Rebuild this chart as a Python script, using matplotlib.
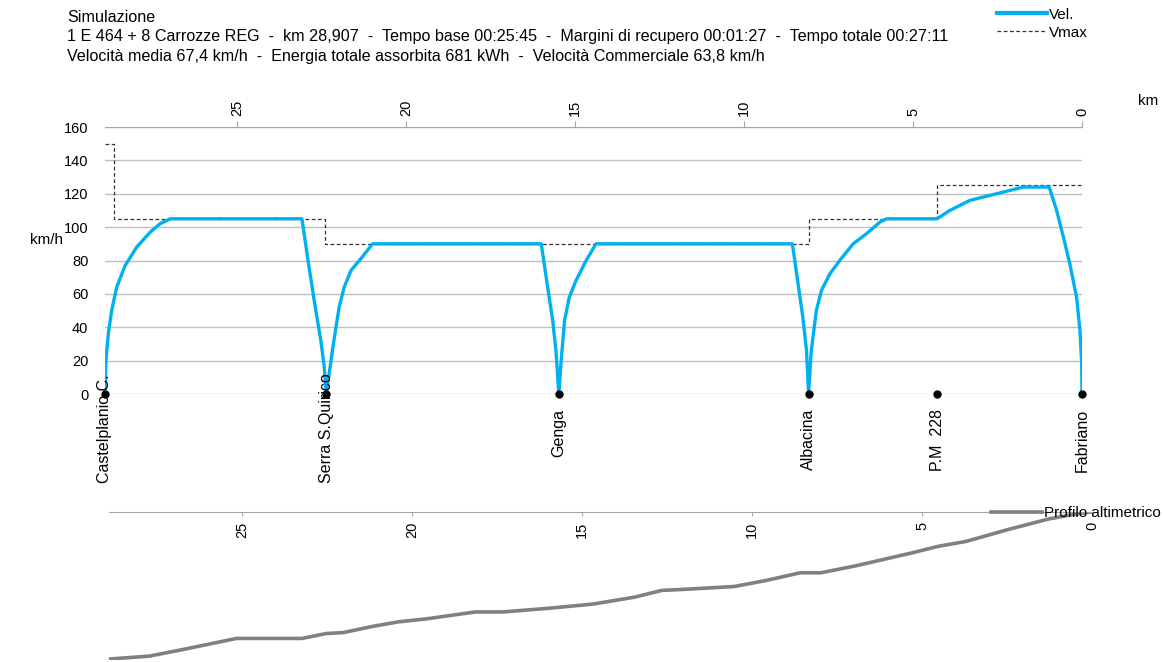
import matplotlib
matplotlib.use('Agg')
import matplotlib.pyplot as plt
from matplotlib.lines import Line2D

plt.rcParams['font.family'] = ['Liberation Sans', 'DejaVu Sans']

# dati
km_total = 28.907

speed_km = [28.907, 28.88, 28.81, 28.71, 28.56, 28.31, 27.97, 27.57, 27.28, 26.98,
            23.08, 22.87, 22.67, 22.52, 22.42, 22.36,
            22.15, 21.98, 21.83, 21.63, 21.34, 20.99,
            16.00, 15.81, 15.66, 15.56, 15.48,
            15.41, 15.31, 15.17, 14.97, 14.67, 14.38,
            8.57, 8.40, 8.26, 8.15, 8.09,
            8.01, 7.86, 7.71, 7.46, 7.17, 6.77, 6.38, 5.98, 5.78,
            4.29, 3.91, 3.32, 2.53, 1.74, 0.97,
            0.75, 0.55, 0.36, 0.16, 0.06, 0.01, 0.0]
speed_val = [0, 20, 36, 50, 64, 77, 88, 97, 102, 105,
             105, 76, 50, 32, 16, 0,
             30, 52, 64, 74, 81, 90,
             90, 64, 44, 25, 0,
             20, 44, 58, 68, 80, 90,
             90, 66, 46, 26, 0,
             26, 50, 62, 72, 80, 90, 96, 103, 105,
             105, 110, 116, 120, 124, 124,
             110, 94, 78, 58, 38, 19, 0]

vmax_km = [28.907, 28.64, 22.39, 8.09, 4.29, 0.0]
vmax_val = [150, 105, 90, 105, 125, 125]

stations = ['Castelplanio C.', 'Serra S.Quirico', 'Genga', 'Albacina', 'P.M  228', 'Fabriano']
station_km = [28.907, 22.36, 15.48, 8.09, 4.29, 0.0]

profile_km = [28.89, 27.71, 26.69, 25.16, 23.23, 22.52, 22.01, 21.20, 20.38, 19.57,
              18.14, 17.33, 15.91, 14.69, 13.47, 12.65, 12.04, 10.52, 9.60, 8.58,
              7.97, 6.96, 5.33, 4.52, 3.70, 2.48, 1.26, 0.45, 0.04]
profile_m = [190, 193, 200, 211, 211, 216, 217, 223, 228, 231,
             238, 238, 242, 246, 253, 260, 261, 264, 270, 278,
             278, 285, 298, 305, 310, 322, 333, 338, 340]

header = ['Simulazione',
          '1 E 464 + 8 Carrozze REG  -  km 28,907  -  Tempo base 00:25:45  -  '
          'Margini di recupero 00:01:27  -  Tempo totale 00:27:11',
          'Velocità media 67,4 km/h  -  Energia totale assorbita 681 kWh  -  '
          'Velocità Commerciale 63,8 km/h']

W, H = 1163, 662
fig = plt.figure(figsize=(W / 100, H / 100), dpi=100)

blue = '#00B0F0'
grid_c = '#BFBFBF'

# grafico velocità
ax = fig.add_axes([105 / W, 1 - 394 / H, (1082 - 105) / W, (394 - 127) / H])
ax.plot(speed_km, speed_val, color=blue, lw=2.4, solid_joinstyle='round', zorder=3)
ax.plot(vmax_km, vmax_val, color='#333333', lw=0.9, ls=(0, (3, 2)),
        drawstyle='steps-post', zorder=2)
ax.plot(station_km, [0] * len(station_km), 'o', color='black', ms=5, zorder=4, clip_on=False)

ax.set_xlim(km_total, 0)
ax.set_ylim(0, 160)
ax.set_yticks(range(0, 161, 20))
ax.grid(axis='y', color=grid_c, lw=1)
ax.set_axisbelow(True)
for s in ['left', 'right', 'bottom']:
    ax.spines[s].set_visible(False)
ax.spines['top'].set_color('#A6A6A6')
ax.xaxis.set_ticks_position('top')
ax.set_xticks([0, 5, 10, 15, 20, 25])
ax.tick_params(axis='x', colors='#A6A6A6', labelcolor='black', length=4,
               labelrotation=90, labelsize=10.5, pad=4)
ax.tick_params(axis='y', length=0, labelsize=10.5, pad=12)

for name, k in zip(stations, station_km):
    if len(name) > 12:
        ax.annotate(name, (k, 0), xytext=(0, -89), textcoords='offset pixels',
                    rotation=90, ha='center', va='bottom', fontsize=11.5)
    else:
        ax.annotate(name, (k, 0), xytext=(0, -15), textcoords='offset pixels',
                    rotation=90, ha='center', va='top', fontsize=11.5)

fig.text(30 / W, 1 - 240 / H, 'km/h', fontsize=11, ha='left', va='center')
fig.text(1138 / W, 1 - 101 / H, 'km', fontsize=11, ha='left', va='center')

for i, line in enumerate(header):
    fig.text(67 / W, 1 - (18 + i * 19) / H, line, fontsize=11.6, va='center')

handles = [Line2D([], [], color=blue, lw=3),
           Line2D([], [], color='#333333', lw=0.9, ls=(0, (3, 2)))]
fig.legend(handles, ['Vel.', 'Vmax'], loc='upper left',
           bbox_to_anchor=(986 / W, 1 + 3 / H), frameon=False, fontsize=11,
           handlelength=3.3, handletextpad=0.15, labelspacing=0.25, borderpad=0.2)

# profilo altimetrico
ax2 = fig.add_axes([109 / W, 1 - 660 / H, (1092 - 109) / W, (660 - 512) / H])
prof, = ax2.plot(profile_km, profile_m, color='#808080', lw=2.6)
ax2.set_xlim(km_total, 0)
ax2.set_ylim(189, 340)
ax2.set_yticks([])
for s in ['left', 'right', 'top']:
    ax2.spines[s].set_visible(False)
ax2.spines['bottom'].set_position(('data', 340))
ax2.spines['bottom'].set_color('#A6A6A6')
ax2.set_xticks([0, 5, 10, 15, 20, 25])
ax2.tick_params(axis='x', colors='#A6A6A6', labelcolor='black', length=3,
                labelrotation=90, labelsize=10.5, pad=4)
ax2.patch.set_visible(False)

fig.legend([prof], ['Profilo altimetrico'], loc='center left',
           bbox_to_anchor=(982 / W, 1 - 513 / H), frameon=False, fontsize=11,
           handlelength=3.3, handletextpad=0.15, borderpad=0.1)

fig.savefig('out.png', dpi=100)
